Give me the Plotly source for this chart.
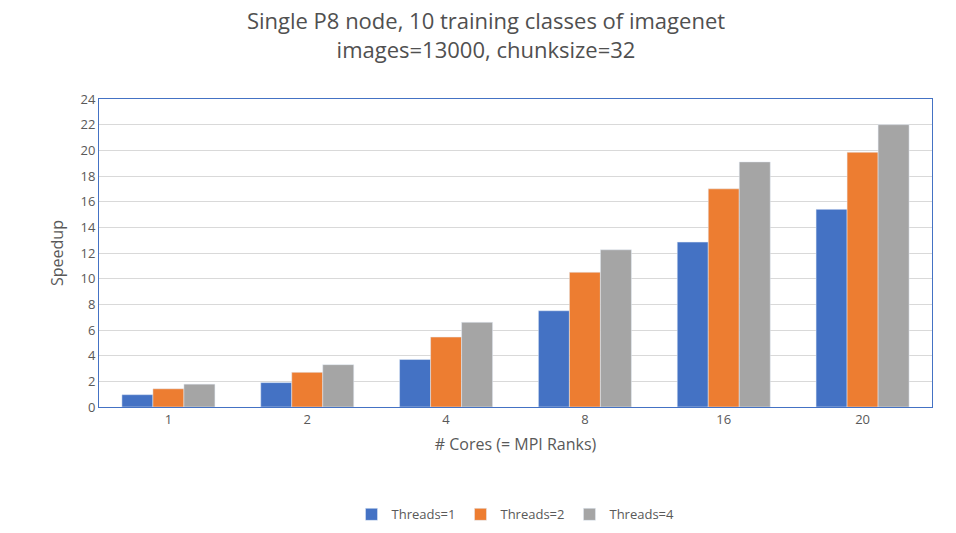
import plotly.graph_objects as go

cores = ["1", "2", "4", "8", "16", "20"]
threads_1 = [0.96, 1.9, 3.7, 7.5, 12.85, 15.4]
threads_2 = [1.42, 2.7, 5.45, 10.5, 17.0, 19.85]
threads_4 = [1.78, 3.3, 6.6, 12.25, 19.1, 22.0]

fig = go.Figure()
for name, vals, col in [("Threads=1", threads_1, "#4472C4"),
                        ("Threads=2", threads_2, "#ED7D31"),
                        ("Threads=4", threads_4, "#A5A5A5")]:
    fig.add_bar(x=cores, y=vals, name=name, marker_color=col)

fig.update_layout(
    width=956, height=533,
    title=dict(text="Single P8 node, 10 training classes of imagenet<br>images=13000, chunksize=32",
               x=0.5, xanchor="center", y=0.96, font=dict(size=22, color="#505050")),
    font=dict(family="Open Sans", color="#595959", size=13),
    paper_bgcolor="white", plot_bgcolor="white",
    margin=dict(l=91, r=32, t=91, b=102),
    bargap=0.33, bargroupgap=0.0,
    legend=dict(orientation="h", x=0.5, xanchor="center", y=-0.3, font=dict(size=13)),
    xaxis=dict(title=dict(text="# Cores (= MPI Ranks)", standoff=12),
               showline=True, linecolor="#4472C4", mirror=True),
    yaxis=dict(title=dict(text="Speedup", standoff=12), range=[0, 24], dtick=2,
               gridcolor="#D9D9D9", showline=True, linecolor="#4472C4", mirror=True,
               zeroline=False),
)
fig.write_html("out.html")
